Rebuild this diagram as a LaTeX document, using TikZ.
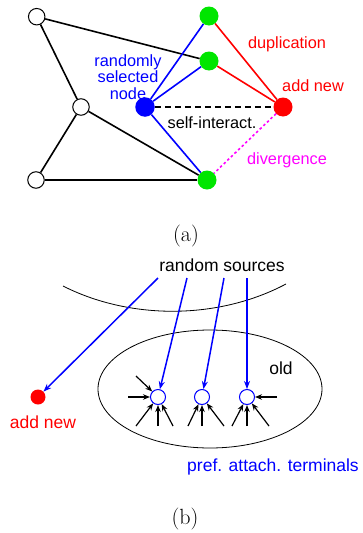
\documentclass[tikz,border=0pt]{standalone}
\usepackage{fontspec}
\setmainfont{Latin Modern Roman}
\newfontfamily\labfont{Liberation Sans}
\usetikzlibrary{arrows.meta,shapes.geometric}
\definecolor{myblue}{RGB}{0,0,255}
\definecolor{myred}{RGB}{255,0,0}
\definecolor{mygreen}{RGB}{0,230,0}
\definecolor{mymag}{RGB}{255,0,255}
\begin{document}
\begin{tikzpicture}[x=1pt,y=-1pt,
  opennode/.style={circle,draw=black,fill=white,line width=1pt,minimum size=16.5pt,inner sep=0pt},
  greennode/.style={circle,fill=mygreen,minimum size=19pt,inner sep=0pt},
  bluenode/.style={circle,fill=myblue,minimum size=19.5pt,inner sep=0pt},
  rednode/.style={circle,fill=myred,minimum size=19pt,inner sep=0pt},
  edge/.style={line width=1.6pt},
  toplab/.style={font=\labfont\fontsize{16.3}{16.7}\selectfont,inner sep=0pt},
  botlab/.style={font=\labfont\fontsize{17.5}{19}\selectfont,inner sep=0pt},
  term/.style={circle,draw=myblue,line width=1pt,fill=white,minimum size=15pt,inner sep=0pt},
  reddot/.style={circle,fill=myred,minimum size=15pt,inner sep=0pt},
  bluearrow/.style={myblue,line width=1.5pt,-{Stealth[length=8pt,width=6pt]}},
  blackarrow/.style={black,line width=1.2pt,-{Stealth[length=7pt,width=5.5pt]}},
  caption/.style={font=\fontsize{22}{26}\selectfont,inner sep=0pt}
]
\useasboundingbox (0,0) rectangle (362,533);
% ---------- (a) ----------
\node[opennode] (o1) at (36.7,16.7) {};
\node[opennode] (o2) at (81,107) {};
\node[opennode] (o3) at (36,180) {};
\node[greennode] (g1) at (209,16) {};
\node[greennode] (g2) at (209,61) {};
\node[greennode] (g3) at (207,180) {};
\node[bluenode] (b) at (145,107) {};
\node[rednode] (r) at (283,107) {};
\draw[edge] (o1) -- (g2);
\draw[edge] (o1) -- (o2);
\draw[edge] (o2) -- (o3);
\draw[edge] (o2) -- (g3);
\draw[edge] (o3) -- (g3);
\draw[edge,myblue] (b) -- (g1);
\draw[edge,myblue] (b) -- (g2);
\draw[edge,myblue] (b) -- (g3);
\draw[edge,myred] (g1) -- (r);
\draw[edge,myred] (g2) -- (r);
\draw[edge,dash pattern=on 6pt off 4pt] (b) -- (r);
\draw[edge,mymag,dash pattern=on 2.5pt off 2.5pt] (r) -- (g3);
\node[toplab,myred] (ldup) at (287,44) {duplication};
\node[toplab,myred] (ladd) at (313,86) {add new};
\node[toplab,myblue,align=center] (lrand) at (128,77) {randomly\\selected\\node};
\node[toplab] (lself) at (212,123) {self-interact.};
\node[toplab,mymag] (ldiv) at (287,160) {divergence};
\node[caption] (capa) at (186,236) {(a)};
% ---------- (b) ----------
\node[botlab] (src) at (222,265) {random sources};
\draw[line width=0.8pt] (63,286) .. controls (130,320) and (218,320) .. (286,284);
\node[draw,ellipse,line width=0.8pt,minimum width=224pt,minimum height=118pt,inner sep=0pt] (old) at (210,389) {};
\node[botlab] (lold) at (281,368) {old};
\node[reddot] (an) at (38,397) {};
\node[botlab,myred] (lan) at (43,422) {add new};
\node[term] (c1) at (158,397) {};
\node[term] (c2) at (202,397) {};
\node[term] (c3) at (247,397) {};
\coordinate (s0) at (158,278);
\coordinate (s1) at (187,278);
\coordinate (s2) at (224,278);
\coordinate (s3) at (247,278);
\draw[bluearrow] (s0) -- (an);
\draw[bluearrow] (s1) -- (c1);
\draw[bluearrow] (s2) -- (c2);
\draw[bluearrow] (s3) -- (c3);
\coordinate (a1) at (128,397);
\coordinate (a2) at (136,376);
\coordinate (a3) at (136,426);
\coordinate (a4) at (158,426);
\coordinate (a5) at (173,426);
\coordinate (a6) at (188,426);
\coordinate (a7) at (202,426);
\coordinate (a8) at (224,426);
\coordinate (a9) at (232,426);
\coordinate (a10) at (247,426);
\coordinate (a11) at (269,426);
\coordinate (a12) at (277,397);
\foreach \p in {a1,a2,a3,a4,a5} \draw[blackarrow] (\p) -- (c1);
\foreach \p in {a6,a7,a8} \draw[blackarrow] (\p) -- (c2);
\foreach \p in {a9,a10,a11,a12} \draw[blackarrow] (\p) -- (c3);
\node[botlab,myblue] (lpref) at (273,467) {pref. attach. terminals};
\node[caption] (capb) at (185,519) {(b)};
\end{tikzpicture}
\end{document}
